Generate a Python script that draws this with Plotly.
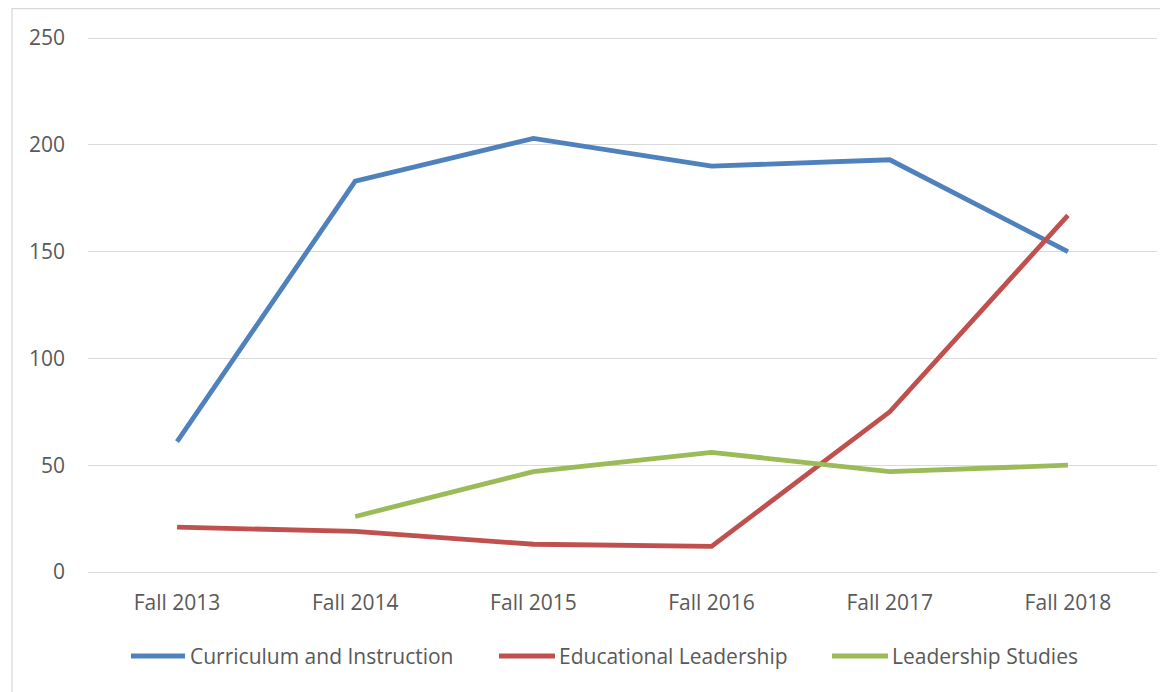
import plotly.graph_objects as go

categories = ["Fall 2013", "Fall 2014", "Fall 2015", "Fall 2016", "Fall 2017", "Fall 2018"]
curriculum = [61, 183, 203, 190, 193, 150]
educational = [21, 19, 13, 12, 75, 167]
leadership = [None, 26, 47, 56, 47, 50]
y_ticks = [0, 50, 100, 150, 200, 250]

series_names = ["Curriculum and Instruction", "Educational Leadership", "Leadership Studies"]
series_values = [curriculum, educational, leadership]
series_colors = ["#4F81BD", "#C0504D", "#9BBB59"]

# figure geometry (page body has an 8px margin)
W, H = 1160, 684
GRID_TOP, GRID_BOTTOM = 30, 564      # pixel rows of 250 and 0
PAD_PX = 3                           # extra room so the edge gridlines are drawn
PL, PR = 80, 1149
PT, PB = GRID_TOP - PAD_PX, GRID_BOTTOM + PAD_PX
PW, PH = PR - PL, PB - PT
pad_units = PAD_PX * 250 / (GRID_BOTTOM - GRID_TOP)


def px_x(px):
    return (px - PL) / PW


def px_y(py):
    return (PB - py) / PH


fig = go.Figure()
for name, vals, color in zip(series_names, series_values, series_colors):
    fig.add_trace(go.Scatter(
        x=categories, y=vals, name=name, mode="lines",
        line=dict(color=color, width=4.8),
        connectgaps=False, showlegend=False,
    ))

font_family = "Open Sans"
text_color = "#595959"
fs = 21

# legend drawn as line keys + text (Excel-style long keys)
legend_line_px = [(123, 177), (491, 547), (824, 880)]
legend_text_px = [182, 551, 884]
legend_y_px = 648

shapes = []
annotations = []
for (x0, x1), tx, name, color in zip(legend_line_px, legend_text_px, series_names, series_colors):
    shapes.append(dict(
        type="line", xref="paper", yref="paper",
        x0=px_x(x0), x1=px_x(x1), y0=px_y(legend_y_px), y1=px_y(legend_y_px),
        line=dict(color=color, width=5),
    ))
    annotations.append(dict(
        xref="paper", yref="paper", x=px_x(tx), y=px_y(legend_y_px),
        xanchor="left", yanchor="middle", showarrow=False, text=name,
        font=dict(family=font_family, size=fs, color=text_color),
        borderpad=0, xshift=-1,
    ))

# chart border
shapes.append(dict(
    type="rect", xref="paper", yref="paper",
    x0=px_x(4), x1=px_x(1175), y0=px_y(700), y1=px_y(0.7),
    line=dict(color="#D9D9D9", width=1.3), fillcolor="rgba(0,0,0,0)",
    layer="below",
))

fig.update_layout(
    width=W, height=H,
    margin=dict(l=PL, r=W - PR, t=PT, b=H - PB),
    paper_bgcolor="white", plot_bgcolor="white",
    font=dict(family=font_family, size=fs, color=text_color),
    showlegend=False,
    xaxis=dict(
        type="category", categoryorder="array", categoryarray=categories,
        range=[-0.5, 5.5], showgrid=False, zeroline=False,
        showline=False, ticks="", ticklabelstandoff=16 - PAD_PX,
        tickfont=dict(family=font_family, size=fs, color=text_color),
    ),
    yaxis=dict(
        range=[-pad_units, 250 + pad_units], tickvals=y_ticks, showgrid=True,
        gridcolor="#D9D9D9", gridwidth=1.3, zeroline=False,
        showline=False, ticks="", ticklabelstandoff=22,
        tickfont=dict(family=font_family, size=fs, color=text_color),
    ),
    shapes=shapes,
    annotations=annotations,
)

fig.write_html("out.html")
